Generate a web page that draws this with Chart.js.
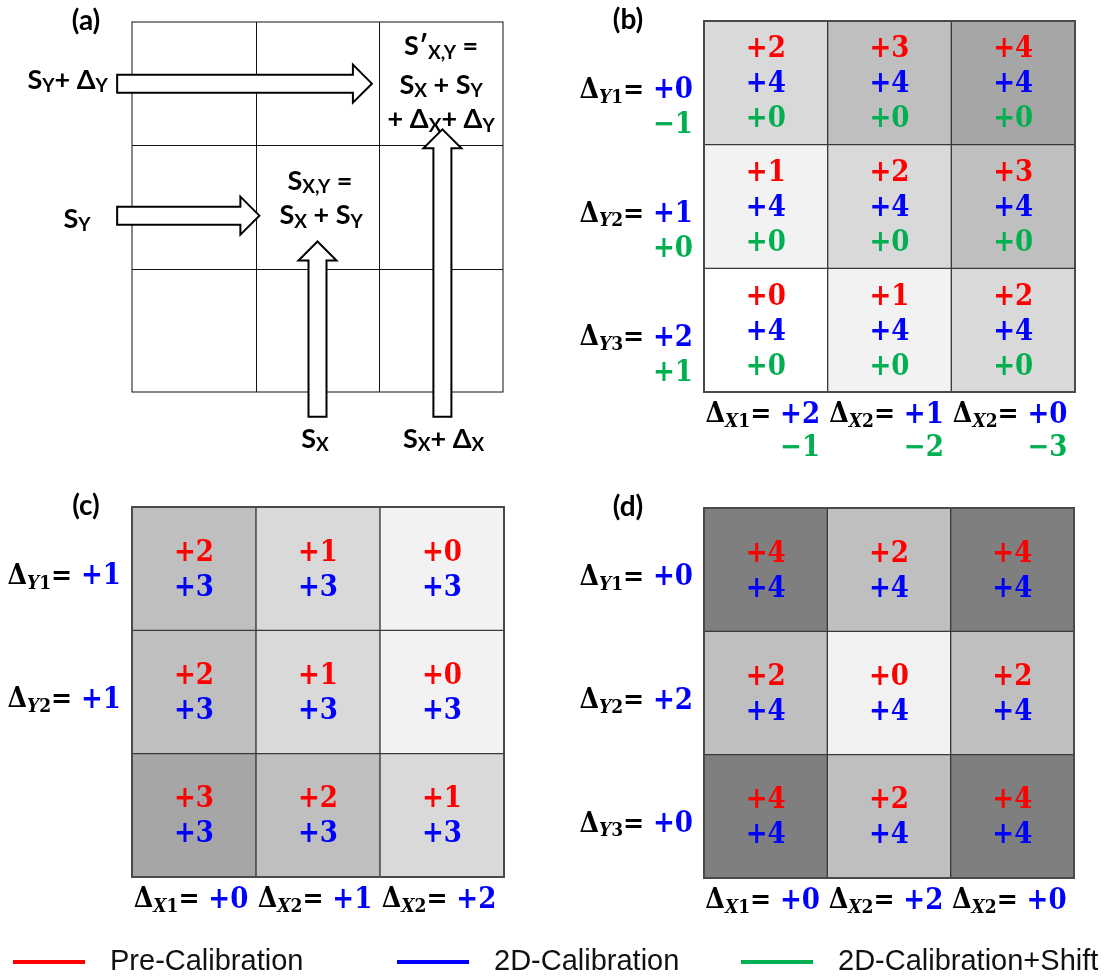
<!DOCTYPE html>
<html>
<head>
<meta charset="utf-8">
<title>Calibration grids</title>
<script src="https://cdn.jsdelivr.net/npm/chart.js@4.4.0/dist/chart.umd.min.js"></script>
<style>
  body { margin: 0; background: #fff; }
  #wrap { position: relative; width: 1107px; height: 980px; }
  canvas { position: absolute; }
</style>
</head>
<body>
<div id="wrap">
  <canvas id="gridA" width="553" height="475" style="left:0;top:0"></canvas>
  <canvas id="gridB" width="554" height="475" style="left:553px;top:0"></canvas>
  <canvas id="gridC" width="553" height="455" style="left:0;top:475px"></canvas>
  <canvas id="gridD" width="554" height="455" style="left:553px;top:475px"></canvas>
  <canvas id="legend" width="1107" height="50" style="left:0;top:930px"></canvas>
</div>
<script>
// grid columns, rows are top to bottom
const columns = ['X1', 'X2', 'X3'];
const colNames = ['X1', 'X2', 'X2'];
const rowNames = ['Y1', 'Y2', 'Y3'];

// (b) 2D calibration + shift
const preB = [[2, 3, 4], [1, 2, 3], [0, 1, 2]];
const calB = [[4, 4, 4], [4, 4, 4], [4, 4, 4]];
const shiftB = [[0, 0, 0], [0, 0, 0], [0, 0, 0]];
const rowCalB = [0, 1, 2];
const rowShiftB = [-1, 0, 1];
const colCalB = [2, 1, 0];
const colShiftB = [-1, -2, -3];

// (c)
const preC = [[2, 1, 0], [2, 1, 0], [3, 2, 1]];
const calC = [[3, 3, 3], [3, 3, 3], [3, 3, 3]];
const rowCalC = [1, 1];
const colCalC = [0, 1, 2];

// (d)
const preD = [[4, 2, 4], [2, 0, 2], [4, 2, 4]];
const calD = [[4, 4, 4], [4, 4, 4], [4, 4, 4]];
const rowCalD = [0, 2, 0];
const colCalD = [0, 2, 0];

const seriesNames = ['Pre-Calibration', '2D-Calibration', '2D-Calibration+Shift'];

// cell shading
const shadeA = [['#fff', '#fff', '#fff'], ['#fff', '#fff', '#fff'], ['#fff', '#fff', '#fff']];
const shadeB = [['#d9d9d9', '#bfbfbf', '#a6a6a6'], ['#f2f2f2', '#d9d9d9', '#bfbfbf'], ['#ffffff', '#f2f2f2', '#d9d9d9']];
const shadeC = [['#bfbfbf', '#d9d9d9', '#f2f2f2'], ['#bfbfbf', '#d9d9d9', '#f2f2f2'], ['#a6a6a6', '#bfbfbf', '#d9d9d9']];
const shadeD = [['#7f7f7f', '#bfbfbf', '#7f7f7f'], ['#bfbfbf', '#f2f2f2', '#bfbfbf'], ['#7f7f7f', '#bfbfbf', '#7f7f7f']];

const RED = '#ff0000', BLUE = '#0000ff', GREEN = '#00b050';
const seriesColors = [RED, BLUE, GREEN];
const SERIF = '"DejaVu Serif Condensed", "DejaVu Serif", serif';
const SANS = 'Lato, "Liberation Sans", sans-serif';
const NUM = `bold 29px ${SERIF}`;

// schematic for (a), in grid units (x = column index, y = rows from bottom)
const arrowsA = [
  { from: [-0.62, 2.5], to: [1.44, 2.5] },
  { from: [-0.62, 1.43], to: [0.53, 1.43] },
  { from: [1.0, -0.2], to: [1.0, 1.22] },
  { from: [2.01, -0.2], to: [2.01, 2.13] }
];
const notesA = [
  { text: 'S_{Y}+ Δ_{Y}', x: -1.02, y: 2.53 },
  { text: 'S_{Y}', x: -0.945, y: 1.4 },
  { text: 'S_{X,Y} =', x: 1.02, y: 1.71 },
  { text: 'S_{X} + S_{Y}', x: 1.03, y: 1.43 },
  { text: 'S′_{X,Y} =', x: 2.0, y: 2.8 },
  { text: 'S_{X} + S_{Y}', x: 2.0, y: 2.49 },
  { text: '+ Δ_{X}+ Δ_{Y}', x: 2.0, y: 2.21 },
  { text: 'S_{X}', x: 0.98, y: -0.38 },
  { text: 'S_{X}+ Δ_{X}', x: 2.02, y: -0.38 }
];

function signed(v) {
  return v < 0 ? '\u2212' + Math.abs(v) : '+' + v;
}

// draws a run of text pieces side by side, returns total width
function drawParts(ctx, parts, x, y, align) {
  let w = 0;
  parts.forEach(p => { ctx.font = p.font; w += ctx.measureText(p.text).width; });
  let cx = align === 'right' ? x - w : align === 'center' ? x - w / 2 : x;
  ctx.textAlign = 'left';
  ctx.textBaseline = 'middle';
  parts.forEach(p => {
    ctx.font = p.font;
    ctx.fillStyle = p.color || '#000';
    ctx.fillText(p.text, cx, y + (p.dy || 0));
    cx += ctx.measureText(p.text).width;
  });
  return w;
}

function deltaParts(name, value) {
  return [
    { text: 'Δ', font: `bold 28px ${SERIF}` },
    { text: name[0], font: `italic bold 19px ${SERIF}`, dy: 7 },
    { text: name.slice(1), font: `bold 19px ${SERIF}`, dy: 7 },
    { text: '= ', font: `bold 28px ${SERIF}` },
    { text: signed(value), font: NUM, color: BLUE }
  ];
}

// 'S_{X}' -> S with subscript X
function richParts(str) {
  const parts = [];
  str.split(/(_\{[^}]*\})/).forEach(s => {
    if (!s) return;
    if (s[0] === '_') parts.push({ text: s.slice(2, -1), font: `bold 19px ${SANS}`, dy: 6 });
    else parts.push({ text: s, font: `bold 27px ${SANS}` });
  });
  return parts;
}

function drawArrow(ctx, x0, y0, x1, y1) {
  const len = Math.hypot(x1 - x0, y1 - y0);
  const ux = (x1 - x0) / len, uy = (y1 - y0) / len;
  const nx = -uy, ny = ux;
  const shaft = 9, head = 19, headLen = 19;
  const bx = x1 - ux * headLen, by = y1 - uy * headLen;
  const pts = [
    [x0 + nx * shaft, y0 + ny * shaft],
    [bx + nx * shaft, by + ny * shaft],
    [bx + nx * head, by + ny * head],
    [x1, y1],
    [bx - nx * head, by - ny * head],
    [bx - nx * shaft, by - ny * shaft],
    [x0 - nx * shaft, y0 - ny * shaft]
  ];
  ctx.beginPath();
  pts.forEach(([x, y], i) => i ? ctx.lineTo(x, y) : ctx.moveTo(x, y));
  ctx.closePath();
  ctx.fillStyle = '#fff';
  ctx.fill();
  ctx.lineWidth = 2;
  ctx.strokeStyle = '#000';
  ctx.stroke();
}

function panelText(cfg) {
  return {
    id: 'panelText',
    afterDatasetsDraw(chart) {
      const ctx = chart.ctx;
      const area = chart.chartArea;
      const sx = chart.scales.x, sy = chart.scales.y;
      const rowMid = r => {
        const di = chart.data.datasets.findIndex(ds => ds.row === r);
        const bar = chart.getDatasetMeta(di).data[0];
        return (bar.y + bar.base) / 2;
      };
      const colMid = c => chart.getDatasetMeta(0).data[c].x;
      ctx.save();

      // thin crisp cell lines taken from the bar edges
      if (cfg.thinLines) {
        ctx.strokeStyle = cfg.frame;
        ctx.lineWidth = 1;
        ctx.beginPath();
        chart.getDatasetMeta(0).data.slice(0, -1).forEach(bar => {
          const x = Math.round(bar.x + bar.width / 2) + 0.5;
          ctx.moveTo(x, area.top);
          ctx.lineTo(x, area.bottom);
        });
        chart.data.datasets.forEach((ds, di) => {
          if (ds.row === 0) return;
          const y = Math.round(chart.getDatasetMeta(di).data[0].y) + 0.5;
          ctx.moveTo(area.left, y);
          ctx.lineTo(area.right, y);
        });
        ctx.stroke();
      }

      ctx.strokeStyle = cfg.frame;
      ctx.lineWidth = cfg.frameWidth;
      ctx.strokeRect(area.left, area.top, area.width, area.height);

      // one text line per series inside each cell
      const n = cfg.cells.length;
      cfg.cells.forEach(([vals, color], k) => {
        vals.forEach((rowVals, r) => rowVals.forEach((v, c) => {
          drawParts(ctx, [{ text: signed(v), font: NUM, color }], colMid(c), rowMid(r) + (k - (n - 1) / 2) * 35 + 2, 'center');
        }));
      });

      if (cfg.rows) {
        const [cal, shift] = cfg.rows;
        cal.forEach((v, r) => {
          const x = area.left - 11, y = rowMid(r) + 8;
          drawParts(ctx, deltaParts(rowNames[r], v), x, y, 'right');
          if (shift) drawParts(ctx, [{ text: signed(shift[r]), font: NUM, color: GREEN }], x, y + 35, 'right');
        });
      }

      if (cfg.cols) {
        const [cal, shift] = cfg.cols;
        cal.forEach((v, c) => {
          const x = colMid(c) - 3, y = area.bottom + 23;
          const w = drawParts(ctx, deltaParts(colNames[c], v), x, y, 'center');
          if (shift) drawParts(ctx, [{ text: signed(shift[c]), font: NUM, color: GREEN }], x + w / 2, y + 33, 'right');
        });
      }

      if (cfg.notes) {
        cfg.notes.forEach(t => drawParts(ctx, richParts(t.text), sx.getPixelForValue(t.x), sy.getPixelForValue(t.y), 'center'));
      }
      if (cfg.arrows) {
        cfg.arrows.forEach(a => drawArrow(ctx,
          sx.getPixelForValue(a.from[0]), sy.getPixelForValue(a.from[1]),
          sx.getPixelForValue(a.to[0]), sy.getPixelForValue(a.to[1])));
      }

      drawParts(ctx, [{ text: cfg.tag, font: `bold 28px ${SANS}` }], cfg.tagX, area.top - 1, 'center');
      ctx.restore();
    }
  };
}

function gridChart(id, cfg) {
  const rows = cfg.fills.length;
  const datasets = [];
  // stacked bars start at the bottom, so push the last row first
  for (let r = rows - 1; r >= 0; r--) {
    datasets.push({
      row: r,
      data: columns.map(() => 1),
      backgroundColor: cfg.fills[r],
      borderColor: cfg.line,
      borderWidth: cfg.lineWidth,
      borderSkipped: false
    });
  }
  return new Chart(document.getElementById(id), {
    type: 'bar',
    data: { labels: columns, datasets },
    options: {
      responsive: false,
      animation: false,
      events: [],
      layout: { padding: cfg.pad },
      datasets: { bar: { barPercentage: 1, categoryPercentage: 1 } },
      plugins: { legend: { display: false }, tooltip: { enabled: false } },
      scales: {
        x: { stacked: true, display: false },
        y: { stacked: true, display: false, min: 0, max: rows }
      }
    },
    plugins: [panelText(cfg)]
  });
}

gridChart('gridA', {
  pad: { left: 132, top: 22, right: 50, bottom: 83 },
  fills: shadeA, line: '#000', lineWidth: 0, thinLines: true, frame: '#111', frameWidth: 1,
  cells: [], arrows: arrowsA, notes: notesA,
  tag: '(a)', tagX: 86
});

gridChart('gridB', {
  pad: { left: 151, top: 21, right: 32, bottom: 83 },
  fills: shadeB, line: '#3a3a3a', lineWidth: 1, frame: '#4a4a4a', frameWidth: 2,
  cells: [[preB, RED], [calB, BLUE], [shiftB, GREEN]],
  rows: [rowCalB, rowShiftB], cols: [colCalB, colShiftB],
  tag: '(b)', tagX: 75
});

gridChart('gridC', {
  pad: { left: 132, top: 32, right: 49, bottom: 53 },
  fills: shadeC, line: '#3a3a3a', lineWidth: 1, frame: '#4a4a4a', frameWidth: 2,
  cells: [[preC, RED], [calC, BLUE]],
  rows: [rowCalC], cols: [colCalC],
  tag: '(c)', tagX: 86
});

gridChart('gridD', {
  pad: { left: 151, top: 33, right: 33, bottom: 52 },
  fills: shadeD, line: '#3a3a3a', lineWidth: 1, frame: '#4a4a4a', frameWidth: 2,
  cells: [[preD, RED], [calD, BLUE]],
  rows: [rowCalD], cols: [colCalD],
  tag: '(d)', tagX: 75
});

// legend row across the bottom
const legendX = [13, 397, 741];
const legendRow = {
  id: 'legendRow',
  afterDraw(chart) {
    const ctx = chart.ctx;
    const y = 32;
    ctx.save();
    chart.data.datasets.forEach((ds, i) => {
      ctx.strokeStyle = ds.borderColor;
      ctx.lineWidth = 4;
      ctx.beginPath();
      ctx.moveTo(legendX[i], y);
      ctx.lineTo(legendX[i] + 72, y);
      ctx.stroke();
      drawParts(ctx, [{ text: ds.label, font: '29px "Liberation Sans", Arial, sans-serif', color: '#111' }], legendX[i] + 97, y, 'left');
    });
    ctx.restore();
  }
};

new Chart(document.getElementById('legend'), {
  type: 'line',
  data: {
    datasets: seriesNames.map((label, i) => ({ label, data: [], borderColor: seriesColors[i], backgroundColor: seriesColors[i] }))
  },
  options: {
    responsive: false,
    animation: false,
    events: [],
    plugins: { legend: { display: false }, tooltip: { enabled: false } },
    scales: { x: { display: false }, y: { display: false } }
  },
  plugins: [legendRow]
});
</script>
</body>
</html>
